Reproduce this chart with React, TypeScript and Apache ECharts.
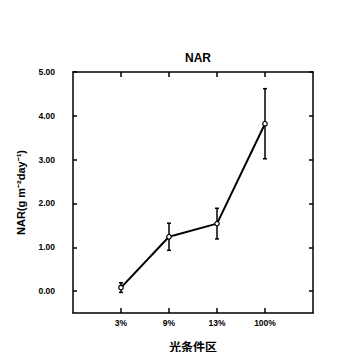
import React, { useEffect, useRef } from "react";
import * as echarts from "echarts";

const categories = ["3%", "9%", "13%", "100%"];
const narMean = [0.08, 1.24, 1.54, 3.82];
const narErr = [0.11, 0.31, 0.35, 0.8];
const yTicks = [0, 1, 2, 3, 4, 5];

export default function App() {
  const ref = useRef<HTMLDivElement>(null);
  useEffect(() => {
    if (!ref.current) return;
    const chart = echarts.init(ref.current, undefined, { renderer: "svg" });
    const xPos = categories.map((_, i) => i + 1);
    const lineData = narMean.map((v, i) => [xPos[i], v]);
    const errData = narMean.map((v, i) => [xPos[i], v - narErr[i], v + narErr[i]]);
    const font = "'Liberation Sans', Arial, sans-serif";
    const axisLine = { show: true, onZero: false, lineStyle: { color: "#000", width: 1.5 } };
    chart.setOption({
      animation: false,
      backgroundColor: "#fff",
      title: {
        text: "NAR",
        left: 193,
        top: 47,
        textAlign: "center",
        textStyle: { fontFamily: font, fontSize: 12, fontWeight: "bold", color: "#000" },
      },
      grid: { left: 73, right: 47, top: 72, bottom: 47 },
      xAxis: [
        {
          type: "value",
          min: 0,
          max: 5,
          position: "bottom",
          axisLine,
          axisTick: { show: true, inside: true, length: 5, customValues: xPos, lineStyle: { color: "#000", width: 1.5 } },
          axisLabel: {
            customValues: xPos,
            formatter: (v: number) => categories[Math.round(v) - 1] ?? "",
            fontFamily: font,
            fontSize: 8.5,
            fontWeight: "bold",
            color: "#000",
            margin: 5,
          },
          splitLine: { show: false },
          name: "光条件区",
          nameLocation: "middle",
          nameGap: 27,
          nameTextStyle: { fontFamily: "'Noto Sans CJK SC', sans-serif", fontSize: 12, fontWeight: "bold", color: "#000" },
        },
        {
          type: "value",
          min: 0,
          max: 5,
          position: "top",
          axisLine,
          axisTick: { show: true, inside: true, length: 5, customValues: xPos, lineStyle: { color: "#000", width: 1.5 } },
          axisLabel: { show: false },
          splitLine: { show: false },
        },
      ],
      yAxis: [
        {
          type: "value",
          min: -0.5,
          max: 5,
          position: "left",
          axisLine,
          axisTick: { show: true, inside: true, length: 4, customValues: yTicks, lineStyle: { color: "#000", width: 1.5 } },
          axisLabel: {
            customValues: yTicks,
            formatter: (v: number) => v.toFixed(2),
            fontFamily: font,
            fontSize: 8.5,
            fontWeight: "bold",
            color: "#000",
            margin: 18,
          },
          splitLine: { show: false },
          name: "NAR(g m\u207B\u00B2day\u207B\u00B9)",
          nameLocation: "middle",
          nameGap: 47,
          nameTextStyle: { fontFamily: font, fontSize: 11, fontWeight: "bold", color: "#000" },
        },
        {
          type: "value",
          min: -0.5,
          max: 5,
          position: "right",
          axisLine,
          axisTick: { show: true, inside: true, length: 4, customValues: yTicks, lineStyle: { color: "#000", width: 1.5 } },
          axisLabel: { show: false },
          splitLine: { show: false },
        },
      ],
      series: [
        {
          type: "custom",
          xAxisIndex: 0,
          yAxisIndex: 0,
          data: errData,
          z: 2,
          renderItem: (params: any, api: any) => {
            const x = api.value(0);
            const lo = api.coord([x, api.value(1)]);
            const hi = api.coord([x, api.value(2)]);
            const hw = 2;
            const style = { stroke: "#000", lineWidth: 1.5 };
            return {
              type: "group",
              children: [
                { type: "line", shape: { x1: lo[0], y1: lo[1], x2: hi[0], y2: hi[1] }, style },
                { type: "line", shape: { x1: lo[0] - hw, y1: lo[1], x2: lo[0] + hw, y2: lo[1] }, style },
                { type: "line", shape: { x1: hi[0] - hw, y1: hi[1], x2: hi[0] + hw, y2: hi[1] }, style },
              ],
            };
          },
        },
        {
          type: "line",
          xAxisIndex: 0,
          yAxisIndex: 0,
          data: lineData,
          z: 3,
          symbol: "circle",
          symbolSize: 4.5,
          showAllSymbol: true,
          lineStyle: { color: "#000", width: 2 },
          itemStyle: { color: "#fff", borderColor: "#000", borderWidth: 1.2 },
        },
      ],
    });
    return () => chart.dispose();
  }, []);
  return <div ref={ref} style={{ width: 360, height: 360, margin: -8 }} />;
}
